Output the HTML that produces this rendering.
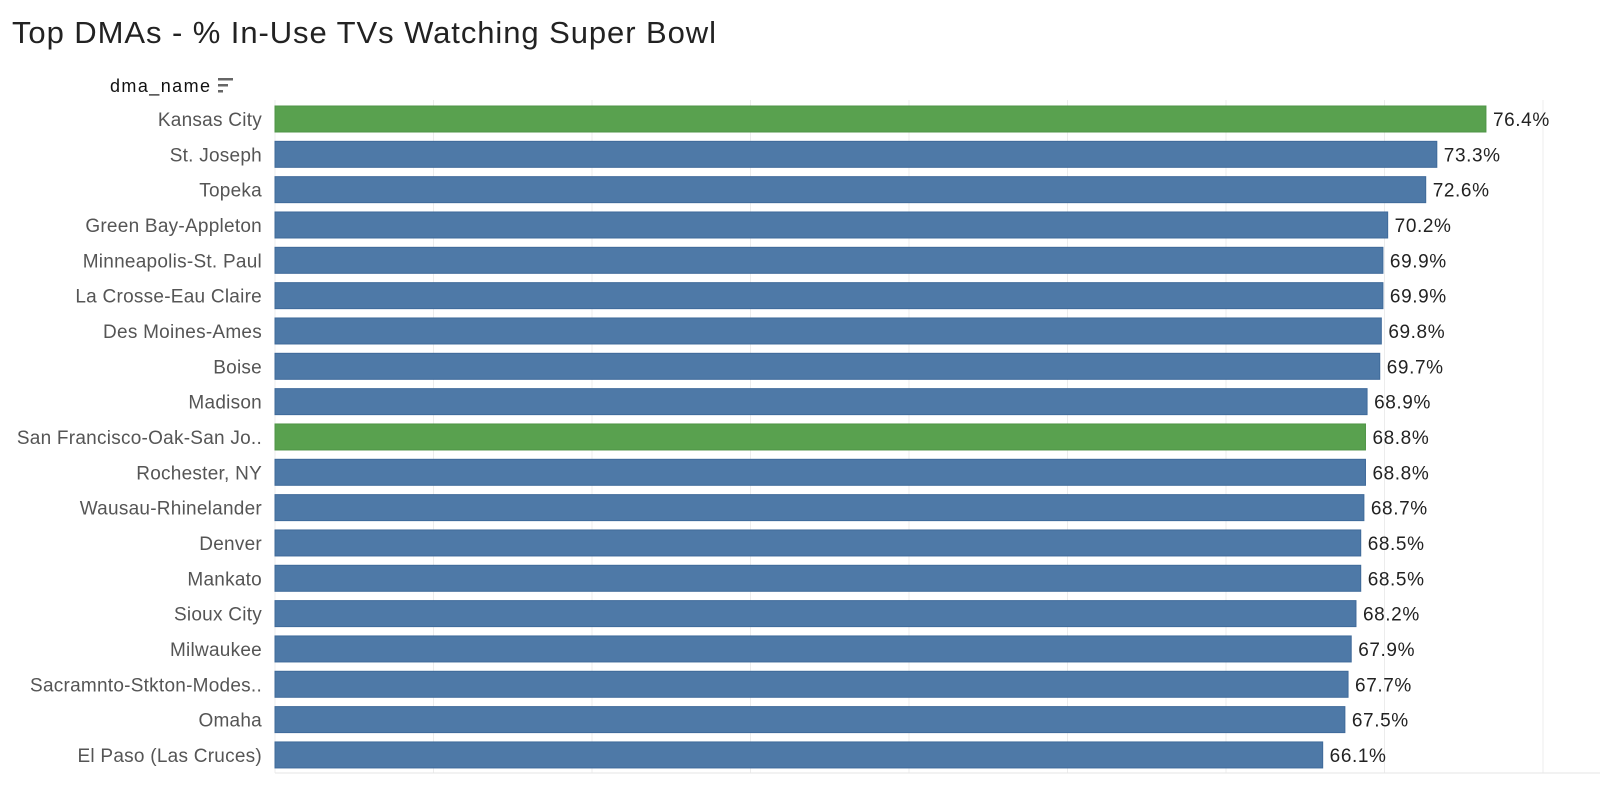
<!DOCTYPE html>
<html><head><meta charset="utf-8"><style>
body{margin:0;background:#fff;font-family:"Liberation Sans",sans-serif;}
svg text{font-family:"Liberation Sans",sans-serif;}
</style></head><body>
<svg width="1600" height="788">
<text x="12" y="43" font-size="31" fill="#222" textLength="704" lengthAdjust="spacing">Top DMAs - % In-Use TVs Watching Super Bowl</text>
<text x="110" y="92" font-size="18" fill="#111" textLength="100" lengthAdjust="spacing">dma_name</text>
<g fill="#666"><rect x="218" y="78" width="15" height="2.5"/><rect x="218" y="84" width="10" height="2.5"/><rect x="218" y="90" width="5" height="2.5"/></g>
<g id="grid"></g><g id="bars"></g>
</svg>
<script>
const categories=["Kansas City","St. Joseph","Topeka","Green Bay-Appleton","Minneapolis-St. Paul","La Crosse-Eau Claire","Des Moines-Ames","Boise","Madison","San Francisco-Oak-San Jo..","Rochester, NY","Wausau-Rhinelander","Denver","Mankato","Sioux City","Milwaukee","Sacramnto-Stkton-Modes..","Omaha","El Paso (Las Cruces)"];
const values=[76.4,73.3,72.6,70.2,69.9,69.9,69.8,69.7,68.9,68.8,68.8,68.7,68.5,68.5,68.2,67.9,67.7,67.5,66.1];
const highlighted=["Kansas City","San Francisco-Oak-San Jo.."];
const gridTicks=[0,10,20,30,40,50,60,70,80];
const NS="http://www.w3.org/2000/svg";
const x0=275,pxPer=15.85,top0=106,pitch=35.33,bh=26;
const xs=v=>x0+v*pxPer, ys=i=>top0+i*pitch;
const grid=document.getElementById('grid'),bars=document.getElementById('bars');
function mk(tag,attrs,parent){const e=document.createElementNS(NS,tag);for(const k in attrs)e.setAttribute(k,attrs[k]);parent.appendChild(e);return e;}
gridTicks.forEach(t=>{
 const l=mk('line',{x1:xs(t),x2:xs(t),y1:100,y2:773,stroke:'#ececec','stroke-width':1},grid);
 
 
});
const base=mk('line',{x1:x0,x2:1600,y1:773,y2:773,stroke:'#e6e6e6'},grid);


categories.forEach((c,i)=>{
 const y=ys(i),v=values[i],hl=highlighted.includes(c);
 const lab=mk('text',{x:262,y:y+bh/2+7,'text-anchor':'end','font-size':19,'letter-spacing':0.25,fill:'#555'},bars);
 lab.textContent=c;
 
 
 const r=mk('rect',{x:x0,y:y,width:xs(v)-x0,height:bh,fill:hl?'#59a14f':'#4e79a7',stroke:hl?'#4f9447':'#3f6a9a','stroke-width':1},bars);
 
 
 const vl=mk('text',{x:xs(v)+7,y:y+bh/2+7,'font-size':19,'letter-spacing':0.6,fill:'#222'},bars);
 vl.textContent=v.toFixed(1)+'%';
 
 
});
</script>
</body></html>
